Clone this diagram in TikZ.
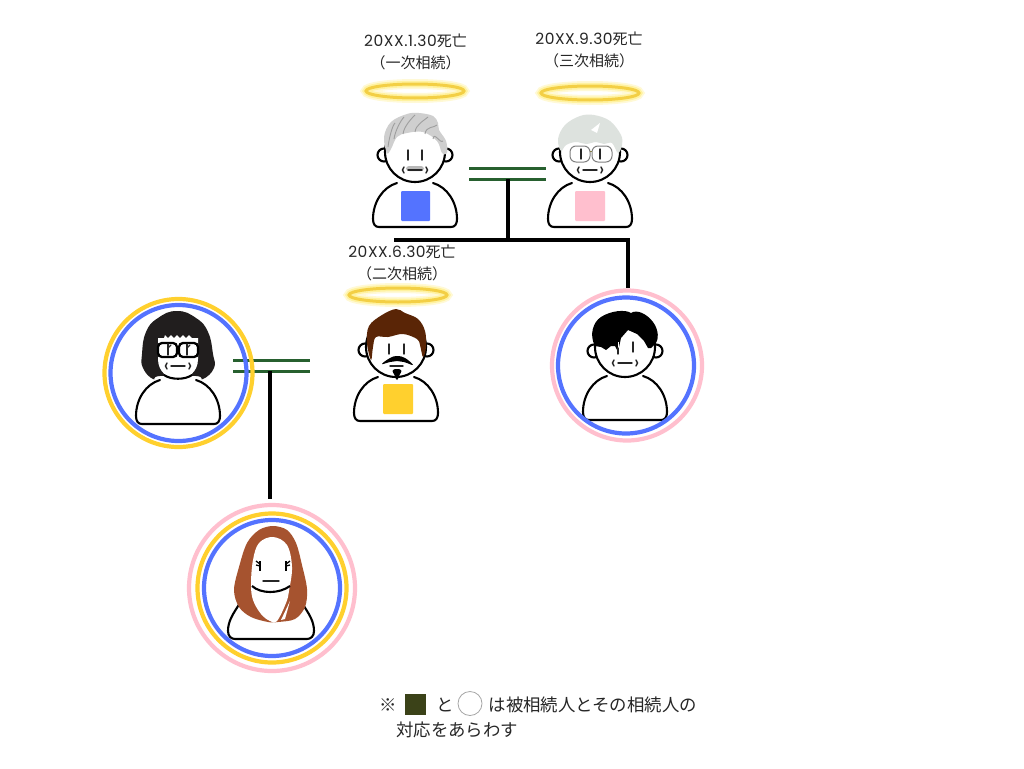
\documentclass[tikz,border=0pt]{standalone}
\usepackage{fontspec}
\setmainfont{Noto Sans CJK JP}
\newfontfamily\lat[LetterSpace=3.5]{Poppins}
\definecolor{cblue}{HTML}{5473FF}
\definecolor{cpink}{HTML}{FFBFCE}
\definecolor{cyell}{HTML}{FFD02E}
\definecolor{cgreen}{HTML}{27602F}
\definecolor{chalo}{HTML}{F3CF45}
\definecolor{cglow}{HTML}{FFF08A}
\definecolor{csil}{HTML}{CFCFCF}
\definecolor{csil2}{HTML}{DDE2DE}
\definecolor{cbrown}{HTML}{5A2506}
\definecolor{cbob}{HTML}{211E1E}
\definecolor{crust}{HTML}{A6532F}
\definecolor{cdark}{HTML}{3B4218}
\tikzset{
 ink/.style={draw=black,line width=2.1pt,line cap=round,line join=round},
 thin ink/.style={draw=black!85,line width=1.4pt,line cap=round},
 kin/.style={draw=black,line width=3.4pt},
 wed/.style={draw=cgreen,line width=3pt},
 lbl/.style={inner sep=0pt,text=black!85,font=\fontsize{15}{21.5}\selectfont,align=center},
 note/.style={inner sep=0pt,text=black!85,font=\fontsize{17.4}{20}\selectfont,anchor=west},
 ring/.style={line width=4.2pt},
 tagbox/.style={rounded corners=1pt},
}
\newcommand{\datestr}[1]{{\lat\fontsize{15.5}{21.5}\selectfont 20XX.#1.30}}
\newcommand{\bodyshape}{%
 \draw[ink,fill=white] (-18,-44) .. controls (-32,-40) and (-42,-25) .. (-42,-8) .. controls (-42,-3) and (-40,0) .. (-36,0) -- (36,0) .. controls (40,0) and (42,-3) .. (42,-8) .. controls (42,-25) and (32,-40) .. (18,-44);}
\newcommand{\earshape}[1]{%
 \draw[ink,fill=white] (-31,#1) circle[radius=6.5];
 \draw[ink,fill=white] (31,#1) circle[radius=6.5];}
\newcommand{\headshape}[1]{\draw[ink,fill=white] (0,#1) circle[radius=30];}
\newcommand{\eyepair}[3]{%
 \draw[thin ink] (#1,-77) -- (#1,-67);
 \draw[thin ink] (#2,-77) -- (#2,-67);}
\newcommand{\mouthat}[1]{%
 \draw[thin ink] (-7,#1) -- (7,#1);
 \draw[thin ink] (-11,#1-3) .. controls (-13,#1-1) and (-13,#1+1) .. (-11,#1+3);
 \draw[thin ink] (11,#1-3) .. controls (13,#1-1) and (13,#1+1) .. (11,#1+3);}
\newcommand{\halo}[2]{%
 \draw[cglow,line width=10pt,opacity=.35] (#1,#2) ellipse[x radius=49,y radius=7];
 \draw[cglow,line width=6.5pt,opacity=.7] (#1,#2) ellipse[x radius=49,y radius=7];
 \draw[chalo,line width=3pt] (#1,#2) ellipse[x radius=49,y radius=7];}
\begin{document}
\begin{tikzpicture}[x=1pt,y=-1pt]
\useasboundingbox[fill=white] (0,0) rectangle (1024,768);

% connector anchors
\coordinate (w1a) at (469,168); \coordinate (w1b) at (546,168);
\coordinate (w2a) at (469,179); \coordinate (w2b) at (546,179);
\coordinate (d1t) at (508,179); \coordinate (d1b) at (508,240);
\coordinate (barl) at (394,240); \coordinate (barr) at (628,240);
\coordinate (sonend) at (628,288);
\coordinate (w3a) at (233,360); \coordinate (w3b) at (310,360);
\coordinate (w4a) at (233,371); \coordinate (w4b) at (310,371);
\coordinate (d2t) at (270,371); \coordinate (d2b) at (270,499);

\draw[wed] (w1a) -- (w1b);
\draw[wed] (w2a) -- (w2b);
\draw[kin] (d1t) -- (d1b);
\draw[kin] (barl) -- (barr) -- (sonend);
\draw[wed] (w3a) -- (w3b);
\draw[wed] (w4a) -- (w4b);
\draw[kin] (d2t) -- (d2b);

% labels
\node[lbl] (t1) at (415.5,52) {\datestr{1}死亡\\（一次相続）};
\node[lbl] (t2) at (589,50) {\datestr{9}死亡\\（三次相続）};
\node[lbl] (t3) at (402,263) {\datestr{6}死亡\\（二次相続）};

% halos
\halo{415}{91}
\halo{590}{93}
\halo{398}{295}

% person 1: grey pompadour
\begin{scope}[shift={(415,227)}]
 \bodyshape \earshape{-72} \headshape{-75}
 \fill[csil] plot[smooth cycle,tension=.6] coordinates {(-28,-74) (-31,-90) (-24,-105) (-8,-113) (4,-114) (18,-111) (23,-104) (24,-97) (31,-86) (32,-74) (27,-74) (22,-86) (8,-95) (-8,-94) (-18,-90) (-24,-78)};
 \foreach \a/\b/\c/\d in {-27/-80/-20/-104,-21/-88/-11/-110,-12/-93/0/-112,0/-95/13/-110,10/-93/22/-102,18/-88/28/-86}
  \draw[black!38,line width=.9pt] (\a,\b) .. controls (\a+1,\b-8) and (\c-3,\d+3) .. (\c,\d);
 \eyepair{-7}{7}{}
 \fill[black!28,rounded corners=3pt] (-9,-61) rectangle (9,-56);
 \mouthat{-57}
 \fill[cblue,tagbox] (-14,-36) rectangle (15,-6);
\end{scope}

% person 2: light hair and glasses
\begin{scope}[shift={(590,227)}]
 \bodyshape \earshape{-72} \headshape{-75}
 \fill[csil2] plot[smooth cycle,tension=.6] coordinates {(-29,-76) (-32,-88) (-25,-102) (-10,-111) (4,-112) (20,-106) (31,-92) (32,-82) (28,-74) (22,-84) (14,-83) (6,-85) (-4,-83) (-14,-85) (-24,-82)};
 \fill[white] (1,-97) -- (10,-104) -- (7,-94) -- cycle;
 \draw[black!50,line width=1pt,rounded corners=6pt] (-20,-81) rectangle (0,-65);
 \draw[black!50,line width=1pt,rounded corners=6pt] (2,-81) rectangle (22,-65);
 \draw[black!55!yellow,line width=1pt] (0,-76) -- (2,-76);
 \draw[thin ink] (-9,-78) -- (-9,-68);
 \draw[thin ink] (10,-78) -- (10,-68);
 \mouthat{-57}
 \fill[cpink,tagbox] (-15,-36) rectangle (15,-6);
\end{scope}

% person 3: brown hair, moustache, beard
\begin{scope}[shift={(396,421)}]
 \bodyshape \earshape{-71} \headshape{-74}
 \fill[cbrown] plot[smooth cycle,tension=.6] coordinates {(-25,-61) (-29,-78) (-27,-95) (-14,-106) (0,-112) (9,-108) (22,-102) (29,-90) (30,-74) (27,-64) (24,-76) (21,-82) (7,-87) (-8,-84) (-20,-84) (-23,-74)};
 \eyepair{-7}{8}{}
 \fill[black] plot[smooth cycle,tension=.7] coordinates {(-14,-57) (-6,-63) (1,-65) (9,-63) (17,-56) (8,-59) (1,-60) (-6,-59)};
 \draw[thin ink] (-6,-55) -- (7,-55);
 \fill[black] plot[smooth cycle,tension=.8] coordinates {(-3,-51) (5,-51) (3,-45) (1,-41) (-1,-45)};
 \fill[cyell,tagbox] (-13,-37) rectangle (17,-7);
\end{scope}

% left woman: black bob
\begin{scope}[shift={(178,424)}]
 \bodyshape
 \fill[cbob] plot[smooth cycle,tension=.8] coordinates {(-25,-45) (-35,-56) (-36,-70) (-32,-92) (-20,-106) (-1,-113) (18,-106) (30,-92) (35,-70) (36,-56) (25,-45) (18,-48) (-18,-48)};
 \fill[white] (-20,-86) -- (-14,-86) -- (-13,-89) -- (-10,-86) -- (-7,-89) -- (-4,-86) -- (-1,-89) -- (2,-86) -- (5,-89) -- (8,-86) -- (11,-89) -- (14,-86) -- (20,-86) -- (20,-65) .. controls (20,-52) and (10,-45) .. (0,-45) .. controls (-10,-45) and (-20,-52) .. (-20,-65) -- cycle;
 \draw[black,line width=2.1pt] (-14,-49) .. controls (-7,-44) and (7,-44) .. (14,-49);
 \draw[black,line width=2.3pt,rounded corners=4pt] (-20,-81) rectangle (-1,-67);
 \draw[black,line width=2.3pt,rounded corners=4pt] (1,-81) rectangle (20,-67);
 \draw[thin ink] (-10,-80) -- (-10,-69);
 \draw[thin ink] (-10,-76) -- (-7,-79);
 \draw[thin ink] (9,-80) -- (9,-69);
 \draw[thin ink] (9,-76) -- (12,-79);
 \mouthat{-58}
\end{scope}

% right man: black hair
\begin{scope}[shift={(625,420)}]
 \bodyshape \earshape{-69} \headshape{-73}
 \fill[black] (-30,-74) .. controls (-36,-85) and (-32,-98) .. (-24,-103) .. controls (-15,-109) and (0,-111) .. (6,-107) .. controls (12,-111) and (22,-106) .. (28,-98) .. controls (34,-90) and (34,-80) .. (30,-76) -- (26,-72) -- (23,-72) -- (19,-79) -- (12,-86) -- (3,-90) -- (-4,-82) -- (-7,-68) -- (-10,-74) -- (-14,-74) -- (-19,-70) -- (-24,-73) -- cycle;
 \draw[thin ink] (8,-78) -- (8,-68);
 \draw[white,line width=.8pt] (-7,-78) -- (-7,-72);
 \draw[thin ink] (-7,-72) -- (-7,-66);
 \mouthat{-57}
\end{scope}

% daughter: long red hair
\begin{scope}[shift={(271,639)}]
 \draw[ink,fill=white] (-31,-36) .. controls (-38,-25) and (-43,-18) .. (-43,-8) .. controls (-43,-3) and (-40,0) .. (-36,0) -- (36,0) .. controls (40,0) and (43,-3) .. (43,-8) .. controls (43,-18) and (38,-25) .. (31,-36);
 \fill[crust] plot[smooth cycle,tension=.55] coordinates {(-37,-49) (-32,-72) (-24,-96) (-12,-109) (2,-113) (16,-109) (25,-96) (31,-74) (36,-50) (34,-32) (24,-20) (7,-17) (-3,-17) (-20,-22) (-32,-32)};
 \fill[white] plot[smooth cycle,tension=.6] coordinates {(2,-102) (-12,-96) (-18,-79) (-20,-55) (-18,-39) (-10,-25) (-1,-18) (6,-18) (15,-36) (18,-48) (21,-72) (16,-94)};
 \fill[white] (10,-19) -- (19,-38) -- (14,-20) -- cycle;
 \draw[black,line width=2.1pt] (-19,-53) .. controls (-10,-45) and (8,-45) .. (19,-53);
 \draw[black,line width=1.3pt] (-11,-78) -- (-11,-68);
 \draw[black,line width=1.3pt] (-11,-75) -- (-15,-78);
 \draw[black,line width=1.3pt] (-11,-73) -- (-15,-74);
 \draw[black,line width=1.3pt] (15,-78) -- (15,-68);
 \draw[black,line width=1.3pt] (15,-75) -- (19,-78);
 \draw[black,line width=1.3pt] (15,-73) -- (19,-74);
 \draw[thin ink] (-8,-58) -- (8,-58);
\end{scope}

% rings
\draw[cyell,ring] (178.5,373) circle[radius=74];
\draw[cblue,ring] (178.5,373) circle[radius=68];
\draw[cpink,ring] (627,365.5) circle[radius=75];
\draw[cblue,ring] (626,365.5) circle[radius=68];
\draw[cpink,ring] (272,588) circle[radius=83];
\draw[cyell,ring] (272,588) circle[radius=74.5];
\draw[cblue,ring] (272,588) circle[radius=68];

% legend
\node[note] (n1) at (379,705) {※};
\fill[cdark] (404.5,694) rectangle (426,715);
\node[note] (n2) at (436,705) {と};
\draw[black!35,line width=.8pt] (470,703.5) circle[radius=12];
\node[note] (n3) at (488.5,705) {は被相続人とその相続人の};
\node[note] (n4) at (396,730) {対応をあらわす};
\end{tikzpicture}
\end{document}
